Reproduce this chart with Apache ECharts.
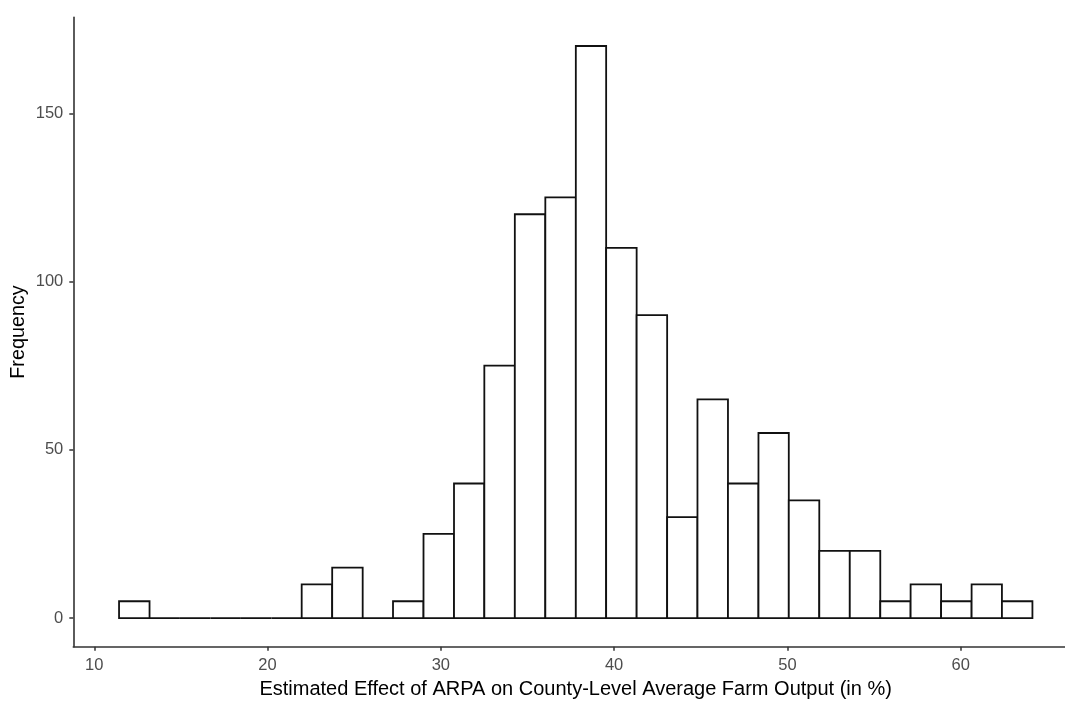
<!DOCTYPE html>
<html>
<head>
<meta charset="utf-8">
<script src="https://cdn.jsdelivr.net/npm/echarts@6/dist/echarts.min.js"></script>
<style>
  html, body { margin: 0; padding: 0; background: #fff; }
  #chart { width: 1065px; height: 702px; }
</style>
</head>
<body>
<div id="chart"></div>
<script>
// histogram bins (edges) and counts per bin
var binEdges = [11.43, 13.19, 14.94, 16.70, 18.46, 20.22, 21.97, 23.73, 25.49, 27.24,
                29.00, 30.76, 32.51, 34.27, 36.03, 37.79, 39.54, 41.30, 43.06, 44.81,
                46.57, 48.33, 50.08, 51.84, 53.60, 55.36, 57.11, 58.87, 60.63, 62.38, 64.14];
var counts = [5, 0, 0, 0, 0, 0, 10, 15, 0, 5,
              25, 40, 75, 120, 125, 170, 110, 90, 30, 65,
              40, 55, 35, 20, 20, 5, 10, 5, 10, 5];
var xTicks = [10, 20, 30, 40, 50, 60];
var yTicks = [0, 50, 100, 150];

var chart = echarts.init(document.getElementById('chart'));

// [left edge, right edge, count]
var bars = [];
for (var i = 0; i < counts.length; i++) {
    bars.push([binEdges[i], binEdges[i + 1], counts[i]]);
}

var font = 'Liberation Sans, Arial, sans-serif';

var option = {
    backgroundColor: '#ffffff',
    animation: false,
    grid: {
        left: 73.3,
        top: 17.4,
        width: 1004.7,
        height: 629.3,
        outerBoundsMode: 'none',
        containLabel: false
    },
    xAxis: {
        type: 'value',
        min: 8.79,
        max: 66.77,
        name: 'Estimated Effect of ARPA on County-Level Average Farm Output (in %)',
        nameLocation: 'middle',
        nameGap: 33,
        nameMoveOverlap: false,
        nameTextStyle: { color: '#000', fontSize: 20, fontFamily: font },
        axisLine: { show: true, onZero: false, lineStyle: { color: '#333', width: 1.6 } },
        axisTick: { show: true, length: 4, customValues: xTicks, lineStyle: { color: '#333', width: 1.5 } },
        axisLabel: { customValues: xTicks, color: '#4d4d4d', fontSize: 16.5, fontFamily: font, margin: 10 },
        splitLine: { show: false }
    },
    yAxis: {
        type: 'value',
        min: -8.5,
        max: 178.5,
        name: 'Frequency',
        nameLocation: 'middle',
        nameRotate: 90,
        nameGap: 45,
        nameMoveOverlap: false,
        nameTextStyle: { color: '#000', fontSize: 19.8, fontFamily: font },
        axisLine: { show: true, onZero: false, lineStyle: { color: '#333', width: 1.6 } },
        axisTick: { show: true, length: 4, customValues: yTicks, lineStyle: { color: '#333', width: 1.5 } },
        axisLabel: { customValues: yTicks, color: '#4d4d4d', fontSize: 16.5, fontFamily: font, margin: 10 },
        splitLine: { show: false }
    },
    series: [{
        type: 'custom',
        encode: { x: [0, 1], y: 2 },
        data: bars,
        renderItem: function (params, api) {
            var p0 = api.coord([api.value(0), api.value(2)]);
            var p1 = api.coord([api.value(1), 0]);
            return {
                type: 'rect',
                shape: { x: p0[0], y: p0[1], width: p1[0] - p0[0], height: p1[1] - p0[1] },
                style: { fill: '#ffffff', stroke: '#111', lineWidth: 1.8 }
            };
        }
    }]
};

chart.setOption(option);
</script>
</body>
</html>
